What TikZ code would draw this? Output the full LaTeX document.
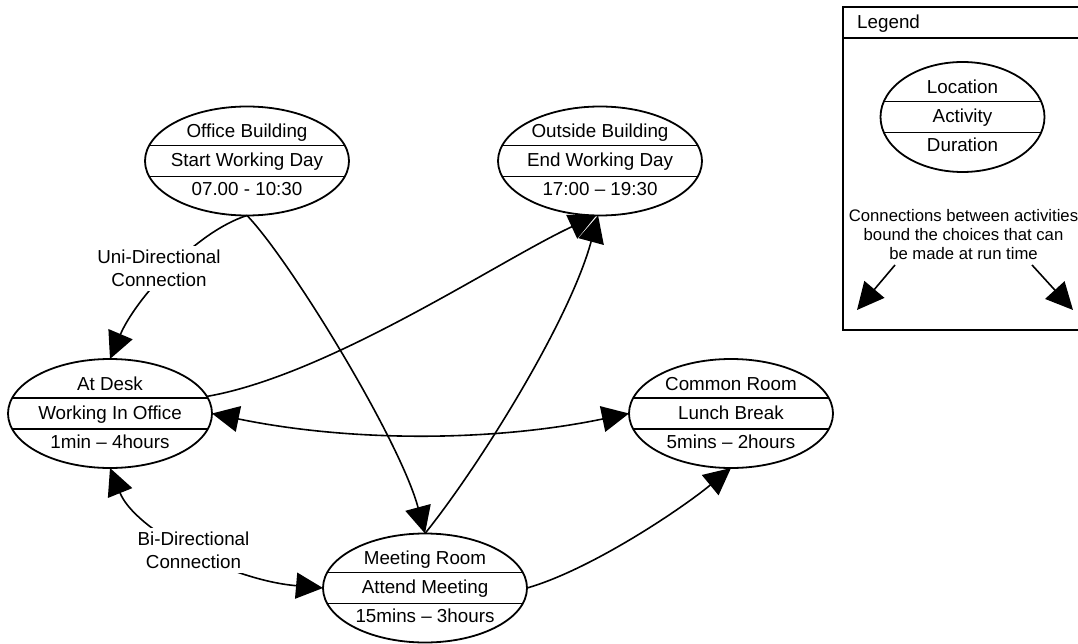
\documentclass[tikz,border=0pt]{standalone}
\usepackage{fontspec}
\setmainfont{Liberation Sans}
\usetikzlibrary{arrows.meta,shapes.geometric}

\tikzset{
  % ellipse split into three rows by two horizontal rules
  stateshape/.style={ellipse, draw, line width=1.8pt, inner sep=0pt, outer sep=0pt,
    minimum width=204pt, minimum height=109pt,
    path picture={
      \draw[line width=1.5pt]
        ([xshift=-130pt,yshift=15.5pt]path picture bounding box.center) --
        ([xshift=130pt,yshift=15.5pt]path picture bounding box.center);
      \draw[line width=1.5pt]
        ([xshift=-130pt,yshift=-15.5pt]path picture bounding box.center) --
        ([xshift=130pt,yshift=-15.5pt]path picture bounding box.center);
    }},
  keyshape/.style={stateshape, minimum width=164pt, minimum height=110pt},
  rowtext/.style={anchor=base, inner sep=0pt, font=\fontsize{18.8}{22}\selectfont},
  notetext/.style={anchor=base, inner sep=0pt, font=\fontsize{16.7}{19}\selectfont},
  bigtip/.tip={Triangle[length=27pt,width=26pt]},
  conn/.style={line width=1.6pt, -bigtip},
  biconn/.style={line width=1.6pt, bigtip-bigtip},
  lbl/.style={fill=white, align=center, inner xsep=3pt, inner ysep=4pt,
    font=\fontsize{18.8}{22.7}\selectfont},
}

% name, x, y, style, location, activity, duration
\newcommand\activitynode[7]{%
  \node[#4] (#1) at (#2,#3) {};
  \node[rowtext] (#1-loc) at ([yshift=23.5pt]#1.center) {#5};
  \node[rowtext] (#1-act) at ([yshift=-5.5pt]#1.center) {#6};
  \node[rowtext] (#1-dur) at ([yshift=-34.5pt]#1.center) {#7};
}

\begin{document}
\begin{tikzpicture}[x=1pt,y=-1pt]
  \useasboundingbox (0,0) rectangle (1078,644);
  \clip (0,0) rectangle (1078,644);

  % activities
  \activitynode{office}{247}{161}{stateshape}{Office Building}{Start Working Day}{07.00 - 10:30}
  \activitynode{outside}{600}{161}{stateshape}{Outside Building}{End Working Day}{17:00 – 19:30}
  \activitynode{desk}{110}{413.5}{stateshape}{At Desk}{Working In Office}{1min – 4hours}
  \activitynode{common}{731}{413.5}{stateshape}{Common Room}{Lunch Break}{5mins – 2hours}
  \activitynode{meeting}{425}{588}{stateshape}{Meeting Room}{Attend Meeting}{15mins – 3hours}

  % connections
  \draw[conn] (office.south) .. controls (195,232) and (135,300) .. (desk.north);
  \draw[conn] (office.south) .. controls (290,260) and (400,440) .. (meeting.north);
  \draw[conn] (desk.10) .. controls (330,375) and (500,260) .. (outside.266);
  \draw[conn] (meeting.north) .. controls (480,465) and (570,320) .. (outside.268);
  \draw[biconn] (desk.east) .. controls (350,442) and (492,442) .. (common.west);
  \draw[biconn] (desk.south) .. controls (135,530) and (230,580) .. (meeting.west);
  \draw[conn] (meeting.east) .. controls (590,570) and (680,510) .. (common.south);

  % connection labels
  \node[lbl] (unilabel) at (159,268.5) {Uni-Directional\\Connection};
  \node[lbl] (bilabel) at (193.5,550.3) {Bi-Directional\\Connection};

  % legend
  \draw[line width=1.8pt] (843,7) rectangle (1095,330);
  \draw[line width=1.5pt] (843,38) -- (1095,38);
  \node[rowtext, anchor=base west] (legendtitle) at (857,29) {Legend};
  \activitynode{key}{962.5}{117}{keyshape}{Location}{Activity}{Duration}
  \node[notetext] (note1) at (963.5,221.5) {Connections between activities};
  \node[notetext] (note2) at (963.5,240.5) {bound the choices that can};
  \node[notetext] (note3) at (963.5,259.5) {be made at run time};
  \coordinate (leftfrom) at (895,265);
  \coordinate (leftto) at (857,310);
  \coordinate (rightfrom) at (1032,265);
  \coordinate (rightto) at (1073,310);
  \draw[conn] (leftfrom) -- (leftto);
  \draw[conn] (rightfrom) -- (rightto);
\end{tikzpicture}
\end{document}
